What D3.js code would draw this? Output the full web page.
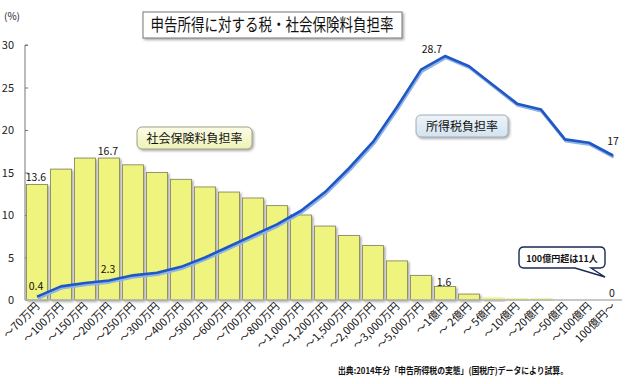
<!DOCTYPE html>
<html>
<head>
<meta charset="utf-8">
<script src="https://cdn.jsdelivr.net/npm/d3@7"></script>
<style>
  html, body { margin: 0; padding: 0; background: #fff; }
  svg { display: block; font-family: "Noto Sans CJK JP", "Noto Sans", sans-serif; }
</style>
</head>
<body>
<div id="chart"></div>
<script>
// ── data ──
const categories = ['～70万円', '～100万円', '～150万円', '～200万円', '～250万円', '～300万円',
  '～400万円', '～500万円', '～600万円', '～700万円', '～800万円', '～1,000万円', '～1,200万円',
  '～1,500万円', '～2,000万円', '～3,000万円', '～5,000万円', '～1億円', '～ 2億円', '～ 5億円',
  '～10億円', '～20億円', '～50億円', '～100億円', '100億円～'];
const socialRate = [13.6, 15.4, 16.7, 16.7, 15.9, 15.0, 14.2, 13.3, 12.7, 12.0, 11.1, 10.0, 8.7,
  7.6, 6.4, 4.6, 2.9, 1.6, 0.7, 0.3, 0.2, 0.2, 0, 0, 0];
const taxRate = [0.4, 1.6, 2.0, 2.3, 2.9, 3.2, 3.9, 5.0, 6.3, 7.6, 8.9, 10.5, 12.7,
  15.5, 18.6, 22.7, 27.1, 28.7, 27.5, 25.3, 23.1, 22.4, 18.9, 18.5, 17.0];
const yTicks = [0, 5, 10, 15, 20, 25, 30];
// value labels: [series, index, text]
const socialLabels = [[0, '13.6'], [3, '16.7'], [17, '1.6'], [24, '0']];
const taxLabels = [[0, '0.4'], [3, '2.3'], [17, '28.7'], [24, '17']];

const W = 630, H = 384;
const svg = d3.select('#chart').append('svg').attr('width', W).attr('height', H);
const defs = svg.append('defs');

const shadow = defs.append('filter').attr('id', 'shadow')
  .attr('x', '-20%').attr('y', '-20%').attr('width', '150%').attr('height', '160%');
shadow.append('feDropShadow').attr('dx', 1.5).attr('dy', 1.5).attr('stdDeviation', 1)
  .attr('flood-color', '#000').attr('flood-opacity', 0.35);

const yellowGrad = defs.append('linearGradient').attr('id', 'yellowBox').attr('x1', 0).attr('y1', 0).attr('x2', 0).attr('y2', 1);
yellowGrad.append('stop').attr('offset', 0).attr('stop-color', '#fbfce6');
yellowGrad.append('stop').attr('offset', 1).attr('stop-color', '#eef2b8');
const blueGrad = defs.append('linearGradient').attr('id', 'blueBox').attr('x1', 0).attr('y1', 0).attr('x2', 0).attr('y2', 1);
blueGrad.append('stop').attr('offset', 0).attr('stop-color', '#eef4f9');
blueGrad.append('stop').attr('offset', 1).attr('stop-color', '#d3e3ef');

// ── scales ──
const x = d3.scaleBand().domain(categories).range([25, 625]).paddingInner(0.12).paddingOuter(0.06);
const y = d3.scaleLinear().domain([0, 30]).range([300, 45]);
const cx = i => x(categories[i]) + x.bandwidth() / 2;

// ── title ──
const tg = svg.append('g');
tg.append('rect').attr('x', 143).attr('y', 12).attr('width', 259).attr('height', 26)
  .attr('fill', '#fff').attr('stroke', '#777').attr('stroke-width', 1).attr('filter', 'url(#shadow)');
tg.append('text').attr('x', 272).attr('y', 31).attr('text-anchor', 'middle')
  .attr('font-size', 16.5).attr('fill', '#111')
  .attr('textLength', 243).attr('lengthAdjust', 'spacingAndGlyphs')
  .text('申告所得に対する税・社会保険料負担率');

// ── y axis ──
svg.append('text').attr('x', 4).attr('y', 20).attr('font-size', 10).attr('fill', '#222').text('(%)');
const yAxis = svg.append('g').attr('transform', 'translate(25,0)')
  .call(d3.axisRight(y).tickValues(yTicks).tickSize(3).tickFormat(''));
yAxis.select('.domain').attr('stroke', '#777').attr('d', 'M3,45H0V300');
yAxis.selectAll('.tick line').attr('stroke', '#777');
svg.append('g').selectAll('text').data(yTicks).join('text')
  .attr('x', 14).attr('y', d => y(d) + 4).attr('text-anchor', 'end')
  .attr('font-size', 11).attr('fill', '#222').text(d => d);

// ── bars ──
svg.append('g').selectAll('rect').data(socialRate).join('rect')
  .attr('x', (d, i) => x(categories[i]))
  .attr('y', d => y(d))
  .attr('width', x.bandwidth())
  .attr('height', d => y(0) - y(d))
  .attr('fill', '#eff47e')
  .attr('stroke', '#7d7f55').attr('stroke-width', d => d > 0.5 ? 0.8 : 0)
  .attr('filter', 'url(#shadow)');

// zero line
svg.append('line').attr('x1', 25).attr('x2', 622).attr('y1', y(0)).attr('y2', y(0))
  .attr('stroke', '#b5b5b5').attr('stroke-width', 1.5);

// ── tax line ──
const line = d3.line().x((d, i) => cx(i)).y(d => y(d));
svg.append('path').datum(taxRate).attr('d', line)
  .attr('transform', 'translate(0.8,1.6)')
  .attr('fill', 'none').attr('stroke', '#8fb3e6').attr('stroke-width', 3.2).attr('stroke-linejoin', 'round');
svg.append('path').datum(taxRate).attr('d', line)
  .attr('fill', 'none').attr('stroke', '#1f57c4').attr('stroke-width', 2.6).attr('stroke-linejoin', 'round');

// ── value labels ──
const lbl = svg.append('g').attr('font-size', 10.5).attr('fill', '#111').attr('text-anchor', 'middle');
socialLabels.forEach(([i, t]) => {
  lbl.append('text').attr('x', cx(i) - 1).attr('y', y(socialRate[i]) - (i === 17 ? 0 : 3)).text(t);
});
const taxOff = { 0: [-1, -7], 3: [-1, -7], 17: [-13, -3], 24: [0, -11] };
taxLabels.forEach(([i, t]) => {
  lbl.append('text').attr('x', cx(i) + taxOff[i][0]).attr('y', y(taxRate[i]) + taxOff[i][1]).text(t);
});

// ── callouts ──
svg.append('rect').attr('x', 137).attr('y', 127).attr('width', 115).attr('height', 22).attr('rx', 5)
  .attr('fill', 'url(#yellowBox)').attr('stroke', '#8b8d6e').attr('stroke-width', 0.8).attr('filter', 'url(#shadow)');
svg.append('text').attr('x', 194.5).attr('y', 142.5).attr('text-anchor', 'middle')
  .attr('font-size', 12).attr('fill', '#111').text('社会保険料負担率');

svg.append('rect').attr('x', 416).attr('y', 115).attr('width', 92).attr('height', 22).attr('rx', 5)
  .attr('fill', 'url(#blueBox)').attr('stroke', '#8a9cab').attr('stroke-width', 0.8).attr('filter', 'url(#shadow)');
svg.append('text').attr('x', 462).attr('y', 130.5).attr('text-anchor', 'middle')
  .attr('font-size', 12).attr('fill', '#111').text('所得税負担率');

// speech bubble
const bx = 519, by = 247, bw = 86, bh = 21, r = 5;
const bubble = `M${bx + r},${by} H${bx + bw - r} Q${bx + bw},${by} ${bx + bw},${by + r} V${by + bh - r}` +
  ` Q${bx + bw},${by + bh} ${bx + bw - r},${by + bh} H${bx + 72} L${605},${277} L${bx + 56},${by + bh}` +
  ` H${bx + r} Q${bx},${by + bh} ${bx},${by + bh - r} V${by + r} Q${bx},${by} ${bx + r},${by} Z`;
svg.append('path').attr('d', bubble).attr('fill', '#fff').attr('stroke', '#1a2a55').attr('stroke-width', 1.4);
svg.append('text').attr('x', bx + bw / 2).attr('y', by + 14.5).attr('text-anchor', 'middle')
  .attr('font-size', 9).attr('font-weight', 'bold').attr('fill', '#111').text('100億円超は11人');

// ── x labels ──
svg.append('g').selectAll('text').data(categories).join('text')
  .attr('transform', (d, i) => `translate(${cx(i) + 3},${307}) rotate(-45)`)
  .attr('text-anchor', 'end').attr('font-size', 11).attr('fill', '#111')
  .text(d => d);

// ── source ──
svg.append('text').attr('x', 338).attr('y', 374).attr('font-size', 9).attr('font-weight', 'bold')
  .attr('fill', '#111').attr('textLength', 230).attr('lengthAdjust', 'spacingAndGlyphs')
  .text('出典:2014年分「申告所得税の実態」(国税庁)データにより試算。');
</script>
</body>
</html>
